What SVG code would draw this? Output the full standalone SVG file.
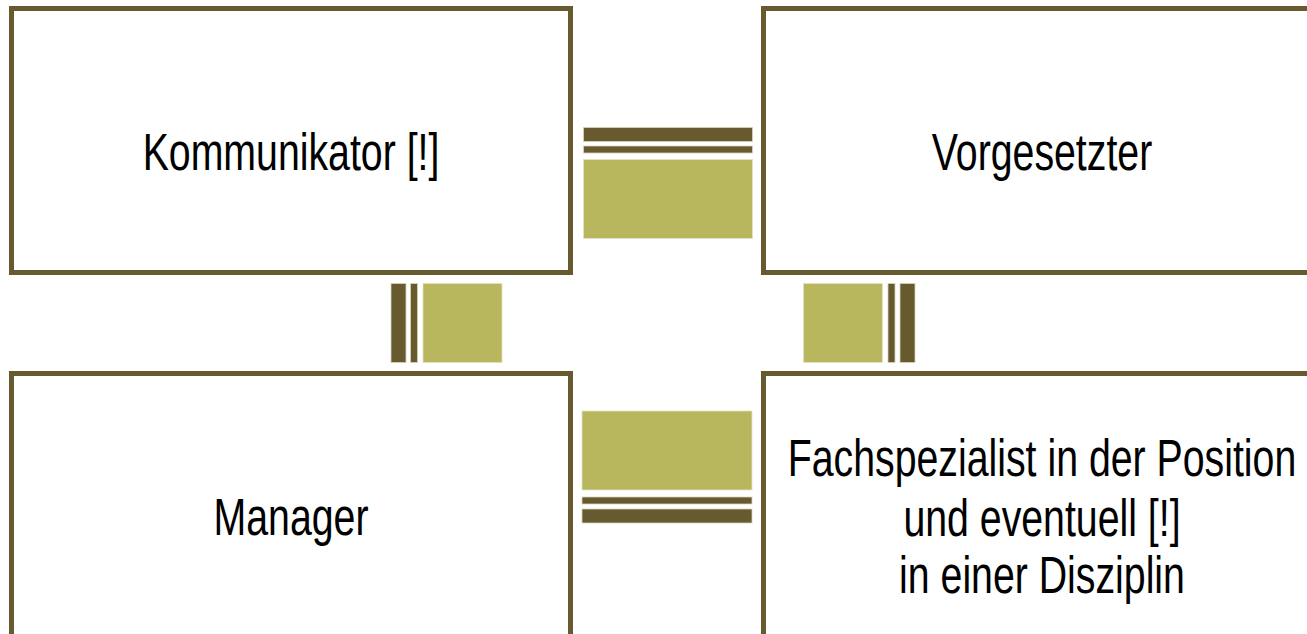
<svg xmlns="http://www.w3.org/2000/svg" width="1307" height="634" viewBox="0 0 1307 634">
<style>
.box{fill:#ffffff;stroke:#675A2F;stroke-width:5}
.dark{fill:#675A2F;stroke:#D8D4B8;stroke-width:0.8}
.green{fill:#B9B75D;stroke:#E4E2C4;stroke-width:0.8}
.lbl{font-family:"Liberation Sans",Arial,sans-serif;font-size:51px;fill:#000000;text-anchor:middle}
</style>
<rect width="1307" height="634" fill="#ffffff"/>
<g id="node-kommunikator">
<rect class="box" x="11.5" y="8.5" width="559" height="264"/>
<g transform="translate(291,169.5) scale(0.77,1)"><text class="lbl" x="0" y="0">Kommunikator [!]</text></g>
</g>
<g id="node-vorgesetzter">
<rect class="box" x="763.5" y="8.5" width="559" height="264"/>
<g transform="translate(1042,169.5) scale(0.77,1)"><text class="lbl" x="0" y="0">Vorgesetzter</text></g>
</g>
<g id="node-manager">
<rect class="box" x="11.5" y="373.5" width="559" height="264"/>
<g transform="translate(291,535) scale(0.77,1)"><text class="lbl" x="0" y="0">Manager</text></g>
</g>
<g id="node-fachspezialist">
<rect class="box" x="763.5" y="373.5" width="559" height="264"/>
<g transform="translate(1042,0) scale(0.77,1)">
<text class="lbl" x="0" y="476">Fachspezialist in der Position</text>
<text class="lbl" x="0" y="536">und eventuell [!]</text>
<text class="lbl" x="0" y="593">in einer Disziplin</text>
</g>
</g>
<g id="connectors">
<rect class="dark" x="583.5" y="127.5" width="169" height="14"/>
<rect class="dark" x="583.5" y="146" width="169" height="7"/>
<rect class="green" x="583.5" y="159.5" width="169" height="79"/>
<rect class="dark" x="391" y="283.5" width="15" height="79"/>
<rect class="dark" x="410.5" y="283.5" width="7" height="79"/>
<rect class="green" x="423" y="283.5" width="79" height="79"/>
<rect class="green" x="803.5" y="283.5" width="79" height="79"/>
<rect class="dark" x="888" y="283.5" width="7" height="79"/>
<rect class="dark" x="900" y="283.5" width="15" height="79"/>
<rect class="green" x="582" y="411" width="170" height="79"/>
<rect class="dark" x="582" y="497" width="170" height="7"/>
<rect class="dark" x="582" y="509" width="170" height="14"/>
</g>
</svg>
